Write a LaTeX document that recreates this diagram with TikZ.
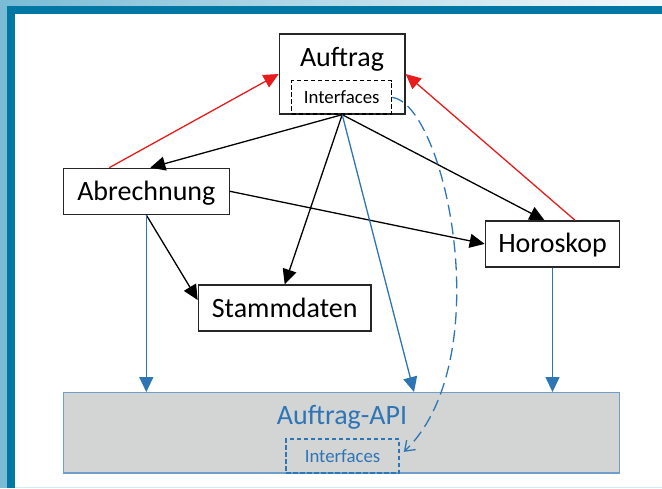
\documentclass[tikz,border=0pt]{standalone}
\usepackage{fontspec}
\setmainfont{Carlito}
\usetikzlibrary{arrows.meta}
\definecolor{framedark}{RGB}{0,120,163}
\definecolor{framelight}{RGB}{122,188,214}
\definecolor{apiblue}{RGB}{46,117,182}
\definecolor{linkred}{RGB}{232,28,28}
\definecolor{apigray}{RGB}{211,212,212}
\begin{document}
\begin{tikzpicture}[x=1pt,y=-1pt]
	    \tikzset{>={Triangle[length=15pt,width=14pt]}}
	    \tikzset{box/.style={draw=black!85,line width=1.3pt,fill=white,inner sep=0pt,minimum height=46pt,text height=18pt,text depth=0pt,font=\fontsize{28}{30}\selectfont}}
	    \tikzset{iface/.style={draw,dash pattern=on 4.5pt off 2.5pt,line width=1.1pt,inner sep=0pt,text height=12.3pt,text depth=0pt,font=\fontsize{18.8}{20}\selectfont}}
	    \tikzset{link/.style={->,line width=1.3pt}}
	    \useasboundingbox (0,0) rectangle (662,488);
	    \fill[left color=framelight,right color=framelight!8] (0,0) rectangle (662,6);
	    \fill[framelight] (0,0) rectangle (7,488);
	    \fill[framedark] (7,6) rectangle (662,14);
	    \fill[framedark] (7,6) rectangle (15,488);
	    \fill[framelight!30] (15,486.5) rectangle (662,488);
	    \node[box,minimum width=125.7pt,minimum height=80pt] (auftrag) at (342.2,74) {};
	    \node[anchor=base,inner sep=0pt,font=\fontsize{28}{30}\selectfont] (auftragtext) at (342,66.5) {Auftrag};
	    \node[iface,minimum width=100pt,minimum height=33.3pt] (auftragif) at (341.7,97.3) {Interfaces};
	    \node[box,minimum width=166pt] (abrechnung) at (146.3,191.3) {Abrechnung};
	    \node[box,minimum width=134.4pt] (horoskop) at (552.5,243.9) {Horoskop};
	    \node[box,minimum width=172.7pt] (stammdaten) at (284.7,308) {Stammdaten};
	    \node[draw=apiblue!70,fill=apigray,line width=1.2pt,inner sep=0pt,minimum width=556.4pt,minimum height=80.3pt] (api) at (341.5,432.8) {};
	    \node[anchor=base,inner sep=0pt,text=apiblue,font=\fontsize{28}{30}\selectfont] (apitext) at (342,424.3) {Auftrag-API};
	    \node[iface,draw=apiblue,text=apiblue,minimum width=113pt,minimum height=34pt] (apiif) at (342.5,456) {Interfaces};
	    \draw[link,color=linkred] ([xshift=-37pt]abrechnung.north) -- (auftrag.west);
	    \draw[link,color=linkred] ([xshift=22.5pt]horoskop.north) -- (auftrag.east);
	    \draw[link] (auftrag.south) -- ([xshift=4pt]abrechnung.north);
	    \draw[link] (auftrag.south) -- (stammdaten.north);
	    \draw[link] (auftrag.south) -- ([xshift=-8pt]horoskop.north);
	    \draw[link] (abrechnung.east) -- (horoskop.west);
	    \draw[link] (abrechnung.south) -- ([yshift=8pt]stammdaten.west);
	    \draw[link,color=apiblue] (abrechnung.south) -- (abrechnung.south |- api.north);
	    \draw[link,color=apiblue] (auftrag.south) -- ([xshift=72.5pt]api.north);
	    \draw[link,color=apiblue] (horoskop.south) -- (horoskop.south |- api.north);
	    \draw[-{Straight Barb[length=9pt,width=13pt]},line width=1.3pt,color=apiblue,dash pattern=on 12pt off 6pt,shorten >=6pt] (auftragif.east) .. controls +(53.3,7.7) and +(100,-96) .. (apiif.east);
	    \end{tikzpicture}
\end{document}
